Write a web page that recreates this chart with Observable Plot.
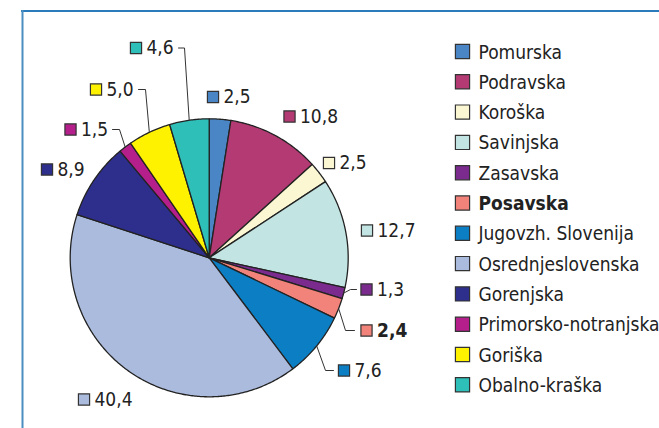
<!DOCTYPE html>
<html><head><meta charset="utf-8">
<script src="https://cdn.jsdelivr.net/npm/d3@7"></script>
<script src="https://cdn.jsdelivr.net/npm/@observablehq/plot@0.6"></script>
<style>body{margin:0;background:#fff}</style>
</head><body><div id="chart"></div>
<script>
// ---- data ----
const regions = ["Pomurska","Podravska","Koroška","Savinjska","Zasavska","Posavska","Jugovzh. Slovenija","Osrednjeslovenska","Gorenjska","Primorsko-notranjska","Goriška","Obalno-kraška"];
const shares = [2.5,10.8,2.5,12.7,1.3,2.4,7.6,40.4,8.9,1.5,5.0,4.6];
const valueLabels = ["2,5","10,8","2,5","12,7","1,3","2,4","7,6","40,4","8,9","1,5","5,0","4,6"];
const highlighted = "Posavska";

// ---- styles ----
const colors = ["#4a85c6","#b33a73","#fbf7d3","#c2e4e2","#7b2a8e","#f2837a","#0b7ec4","#abbbdd","#2e2e8c","#b51f8c","#fff200","#2fbfb9"];

// ---- layout ----
const W = 659, H = 428;
const cx = 208.7, cy = 257.3, R = 139;
// label square centres (pixel layout)
const labelPos = {
  "Pomurska":[212.5,96.5], "Podravska":[289,116], "Koroška":[328.5,162.5], "Savinjska":[366.5,230],
  "Zasavska":[366,289], "Posavska":[366,330], "Jugovzh. Slovenija":[343.5,370], "Osrednjeslovenska":[83.5,399],
  "Gorenjska":[46.5,169], "Primorsko-notranjska":[70,129], "Goriška":[95.5,89], "Obalno-kraška":[135.5,47.5]
};
// leader lines: bend point and end point
const leaderLayout = {
  "Obalno-kraška":[[184,47.5],[178,47.5]],
  "Goriška":[[145,89],[138,89]],
  "Primorsko-notranjska":[[119,129],[112,129]],
  "Zasavska":[[350,289],[356,289]],
  "Posavska":[[345,330],[354,330]],
  "Jugovzh. Slovenija":[[325,370],[333,370]]
};

const data = regions.map((r,i)=>({name:r, v:shares[i], label:valueLabels[i]}));
const arcs = d3.pie().sort(null).value(d=>d.v).startAngle(0).endAngle(2*Math.PI)(data);
const pt = t => ({x: cx + R*Math.sin(t), y: cy - R*Math.cos(t)});

const poly = [];
for (const a of arcs) {
  const name = a.data.name;
  poly.push({name, x:cx, y:cy});
  const n = Math.max(2, Math.ceil((a.endAngle-a.startAngle)/0.01));
  for (let k=0;k<=n;k++){ const p = pt(a.startAngle+(a.endAngle-a.startAngle)*k/n); poly.push({name, ...p}); }
  poly.push({name, x:cx, y:cy});
}

const leaders = [];
for (const a of arcs) {
  const name = a.data.name;
  if (!leaderLayout[name]) continue;
  const p = pt((a.startAngle+a.endAngle)/2);
  leaders.push({name, x:p.x, y:p.y});
  for (const q of leaderLayout[name]) leaders.push({name, x:q[0], y:q[1]});
}

const labs = data.map(d=>({...d, sx: labelPos[d.name][0], sy: labelPos[d.name][1]}));

const font = "'DejaVu Sans Condensed','DejaVu Sans',sans-serif";
const legendX = 462, legendY0 = 51, legendStep = 30.3;

const chart = Plot.plot({
  width: W, height: H, margin: 0,
  x: {domain:[0,W], range:[0,W], axis:null},
  y: {domain:[0,H], range:[0,H], axis:null},
  color: {domain: regions, range: colors},
  style: {fontFamily: font, fontStretch: "condensed", background: "#fff"},
  marks: [
    Plot.ruleY([10.5], {x1: 21, x2: W, stroke: "#2b7bba", strokeWidth: 2}),
    Plot.ruleX([22], {y1: 10, y2: H, stroke: "#4a8fc0", strokeWidth: 2}),
    Plot.line(poly, {x:"x", y:"y", z:"name", fill:"name", stroke:"#222", strokeWidth:1.3, strokeLinejoin:"round", curve:"linear"}),
    Plot.line(leaders, {x:"x", y:"y", z:"name", stroke:"#333", strokeWidth:1}),
    Plot.dot(labs, {x:"sx", y:"sy", fill:"name", symbol:"square", r:6.3, stroke:"#333", strokeWidth:1.2}),
    Plot.text(labs.filter(d=>d.name!==highlighted), {x:d=>d.sx+10.5, y:"sy", text:"label", textAnchor:"start", lineAnchor:"middle", fontSize:19, fill:"#222"}),
    Plot.text(labs.filter(d=>d.name===highlighted), {x:d=>d.sx+10.5, y:"sy", text:"label", textAnchor:"start", lineAnchor:"middle", fontSize:19, fontWeight:"bold", fill:"#222"}),
    Plot.dot(regions, {x:()=>legendX, y:(d,i)=>legendY0+legendStep*i, fill:d=>d, symbol:"square", r:8, stroke:"#333", strokeWidth:1.2}),
    Plot.text(regions.filter(d=>d!==highlighted), {x:()=>legendX+16, y:d=>legendY0+legendStep*regions.indexOf(d)+1, text:d=>d, textAnchor:"start", lineAnchor:"middle", fontSize:19, fill:"#222"}),
    Plot.text([highlighted], {x:()=>legendX+16, y:d=>legendY0+legendStep*regions.indexOf(d)+1, text:d=>d, textAnchor:"start", lineAnchor:"middle", fontSize:19, fontWeight:"bold", fill:"#222"})
  ]
});
document.getElementById("chart").appendChild(chart);
</script>
</body></html>
